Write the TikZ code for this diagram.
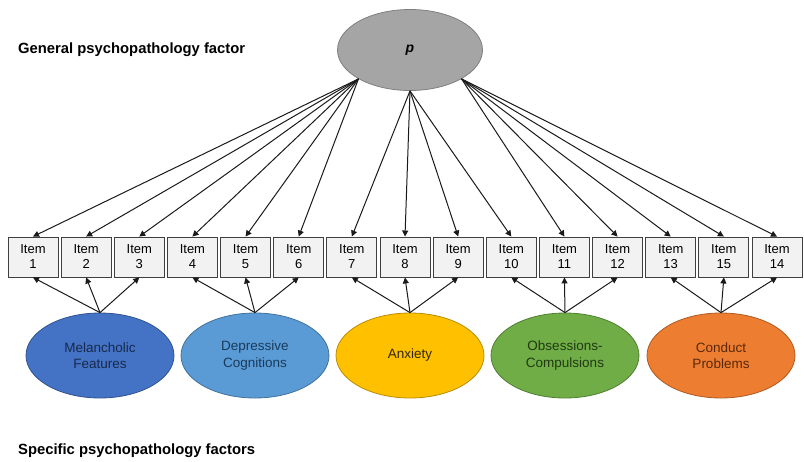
\documentclass[tikz,border=0pt]{standalone}
\usepackage{fontspec}
\setmainfont{Liberation Sans}
\usetikzlibrary{arrows.meta,shapes.geometric}

\definecolor{pfill}{HTML}{A5A5A5}
\definecolor{pdraw}{HTML}{7F7F7F}
\definecolor{boxfill}{HTML}{F2F2F2}
\definecolor{boxdraw}{HTML}{3F3F3F}
\definecolor{melfill}{HTML}{4472C4}
\definecolor{meldraw}{HTML}{2F528F}
\definecolor{meltext}{HTML}{172A4D}
\definecolor{depfill}{HTML}{5B9BD5}
\definecolor{depdraw}{HTML}{41719C}
\definecolor{deptext}{HTML}{173B5C}
\definecolor{anxfill}{HTML}{FFC000}
\definecolor{anxdraw}{HTML}{BC8C00}
\definecolor{anxtext}{HTML}{332700}
\definecolor{obsfill}{HTML}{70AD47}
\definecolor{obsdraw}{HTML}{507E32}
\definecolor{obstext}{HTML}{203A11}
\definecolor{confill}{HTML}{ED7D31}
\definecolor{condraw}{HTML}{AE5A21}
\definecolor{context}{HTML}{5A2808}
\definecolor{arrowcol}{HTML}{1A1A1A}

\begin{document}
\begin{tikzpicture}[x=1pt,y=-1pt,
  latent/.style={ellipse, inner sep=0pt, line width=0.8pt},
  factor/.style={latent, minimum width=148pt, minimum height=85pt,
    align=center, font=\fontsize{13.5}{16.5}\selectfont},
  itembox/.style={rectangle, fill=boxfill, draw=boxdraw, line width=0.9pt,
    minimum width=50pt, minimum height=40pt, inner sep=0pt,
    align=center, font=\fontsize{13}{15}\selectfont},
  load/.style={draw=arrowcol, line width=1pt,
    -{Triangle[length=6pt,width=6pt]}},
  heading/.style={anchor=west, inner sep=0pt,
    font=\fontsize{14.8}{17}\selectfont\bfseries}
]
\useasboundingbox (0,0) rectangle (804,461);

% headings
\node[heading] (hg) at (18,50) {General psychopathology factor};
\node[heading] (hs) at (18,451) {Specific psychopathology factors};

% general factor
\node[latent, fill=pfill, draw=pdraw, minimum width=145pt, minimum height=81pt,
      font=\fontsize{14}{16}\selectfont] (p) at (410,50) {\textbf{\textit{p}}};

% observed items (position / printed number)
\foreach \k/\lab in {1/1,2/2,3/3,4/4,5/5,6/6,7/7,8/8,9/9,10/10,11/11,12/12,13/13,14/15,15/14}
  \node[itembox] (i\k) at ({33+53.143*(\k-1)},257) {Item\\\lab};

% specific factors
\node[factor, fill=melfill, draw=meldraw, text=meltext] (f1) at (100,355.5) {Melancholic\\Features};
\node[factor, fill=depfill, draw=depdraw, text=deptext] (f2) at (255,355.5) {Depressive\\Cognitions};
\node[factor, fill=anxfill, draw=anxdraw, text=anxtext] (f3) at (410,355.5) {Anxiety};
\node[factor, fill=obsfill, draw=obsdraw, text=obstext] (f4) at (565,355.5) {Obsessions-\\Compulsions};
\node[factor, fill=confill, draw=condraw, text=context] (f5) at (721,355.5) {Conduct\\Problems};

% loadings on p
\foreach \k in {1,...,6}   \draw[load] (p.south west) -- (i\k.north);
\foreach \k in {7,...,10}  \draw[load] (p.south) -- (i\k.north);
\foreach \k in {11,...,15} \draw[load] (p.south east) -- (i\k.north);

% loadings on specific factors
\foreach \f/\a/\b/\c in {1/1/2/3, 2/4/5/6, 3/7/8/9, 4/10/11/12, 5/13/14/15} {
  \draw[load] (f\f.north) -- (i\a.south);
  \draw[load] (f\f.north) -- (i\b.south);
  \draw[load] (f\f.north) -- (i\c.south);
}
\end{tikzpicture}
\end{document}
